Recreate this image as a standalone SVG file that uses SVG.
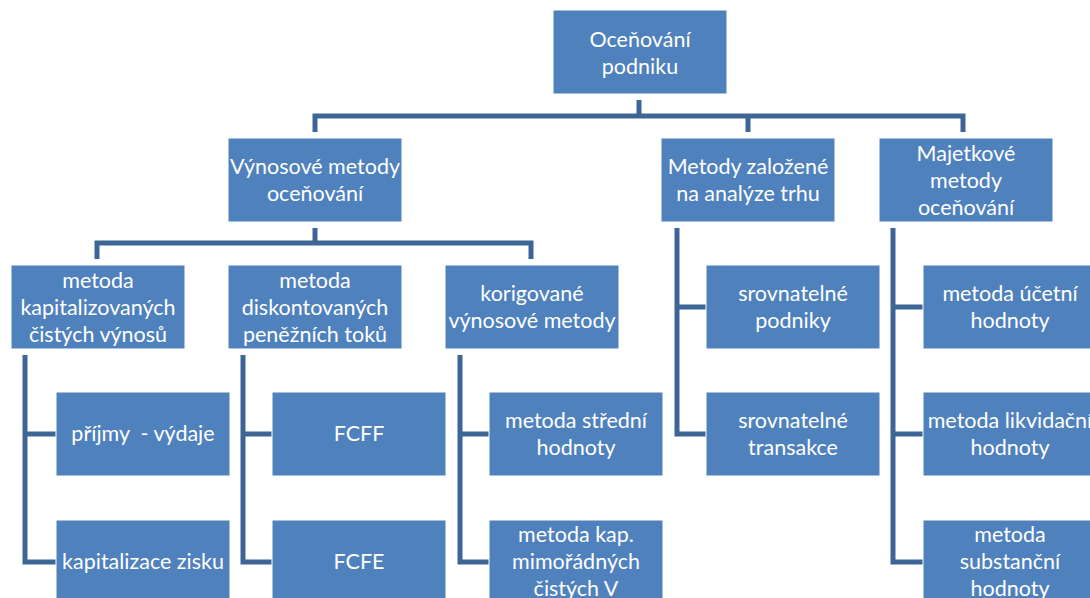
<svg xmlns="http://www.w3.org/2000/svg" width="1090" height="598" viewBox="0 0 1090 598">
<style>
.box{fill:#4F81BD;stroke:#FFFFFF;stroke-width:1}
.t{font-family:Lato,"Liberation Sans",sans-serif;font-size:21.5px;fill:#FFFFFF;text-anchor:middle;white-space:pre}
.c{fill:none;stroke:#3D6596;stroke-width:5;stroke-linejoin:miter;stroke-linecap:butt}
</style>
<rect width="1090" height="598" fill="#FFFFFF"/>
<g id="connectors">
<path class="c" d="M639 100V116M315 132V116H963V132M748 116V132"/>
<path class="c" d="M315 228V243M97 259V243H531V259"/>
<path class="c" d="M25 355V562H56M25 434H56"/>
<path class="c" d="M243 355V562H272M243 434H272"/>
<path class="c" d="M460 355V562H489M460 434H489"/>
<path class="c" d="M677 228V434H706M677 307H706"/>
<path class="c" d="M893 228V562H923M893 307H923M893 434H923"/>
</g>
<g id="n_root"><rect class="box" x="553" y="10" width="174" height="84"/><text class="t" x="640" y="47">Oceňování</text><text class="t" x="640" y="74">podniku</text></g>
<g id="n_vynos"><rect class="box" x="228" y="138" width="174" height="84"/><text class="t" x="315" y="174">Výnosové metody</text><text class="t" x="315" y="201">oceňování</text></g>
<g id="n_trh"><rect class="box" x="661" y="138" width="174" height="84"/><text class="t" x="748" y="174">Metody založené</text><text class="t" x="748" y="201">na analýze trhu</text></g>
<g id="n_majet"><rect class="box" x="879" y="138" width="174" height="84"/><text class="t" x="966" y="161">Majetkové</text><text class="t" x="966" y="188">metody</text><text class="t" x="966" y="215">oceňování</text></g>
<g id="n_kap"><rect class="box" x="11" y="265" width="174" height="84"/><text class="t" x="98" y="288">metoda</text><text class="t" x="98" y="315">kapitalizovaných</text><text class="t" x="98" y="342">čistých výnosů</text></g>
<g id="n_disk"><rect class="box" x="228" y="265" width="174" height="84"/><text class="t" x="315" y="288">metoda</text><text class="t" x="315" y="315">diskontovaných</text><text class="t" x="315" y="342">peněžních toků</text></g>
<g id="n_kor"><rect class="box" x="445" y="265" width="174" height="84"/><text class="t" x="532" y="301">korigované</text><text class="t" x="532" y="328">výnosové metody</text></g>
<g id="n_srovp"><rect class="box" x="706" y="265" width="174" height="84"/><text class="t" x="793" y="301">srovnatelné</text><text class="t" x="793" y="328">podniky</text></g>
<g id="n_ucet"><rect class="box" x="923" y="265" width="174" height="84"/><text class="t" x="1010" y="301">metoda účetní</text><text class="t" x="1010" y="328">hodnoty</text></g>
<g id="n_pv"><rect class="box" x="56" y="392" width="174" height="84"/><text class="t" x="143" y="441">příjmy  - výdaje</text></g>
<g id="n_fcff"><rect class="box" x="272" y="392" width="174" height="84"/><text class="t" x="359" y="441">FCFF</text></g>
<g id="n_stred"><rect class="box" x="489" y="392" width="174" height="84"/><text class="t" x="576" y="428">metoda střední</text><text class="t" x="576" y="455">hodnoty</text></g>
<g id="n_srovt"><rect class="box" x="706" y="392" width="174" height="84"/><text class="t" x="793" y="428">srovnatelné</text><text class="t" x="793" y="455">transakce</text></g>
<g id="n_likv"><rect class="box" x="923" y="392" width="174" height="84"/><text class="t" x="1010" y="428">metoda likvidační</text><text class="t" x="1010" y="455">hodnoty</text></g>
<g id="n_zisk"><rect class="box" x="56" y="520" width="174" height="84"/><text class="t" x="143" y="569">kapitalizace zisku</text></g>
<g id="n_fcfe"><rect class="box" x="272" y="520" width="174" height="84"/><text class="t" x="359" y="569">FCFE</text></g>
<g id="n_mimo"><rect class="box" x="489" y="520" width="174" height="84"/><text class="t" x="576" y="542">metoda kap.</text><text class="t" x="576" y="569">mimořádných</text><text class="t" x="576" y="596">čistých V</text></g>
<g id="n_subst"><rect class="box" x="923" y="520" width="174" height="84"/><text class="t" x="1010" y="542">metoda</text><text class="t" x="1010" y="569">substanční</text><text class="t" x="1010" y="596">hodnoty</text></g>
</svg>
